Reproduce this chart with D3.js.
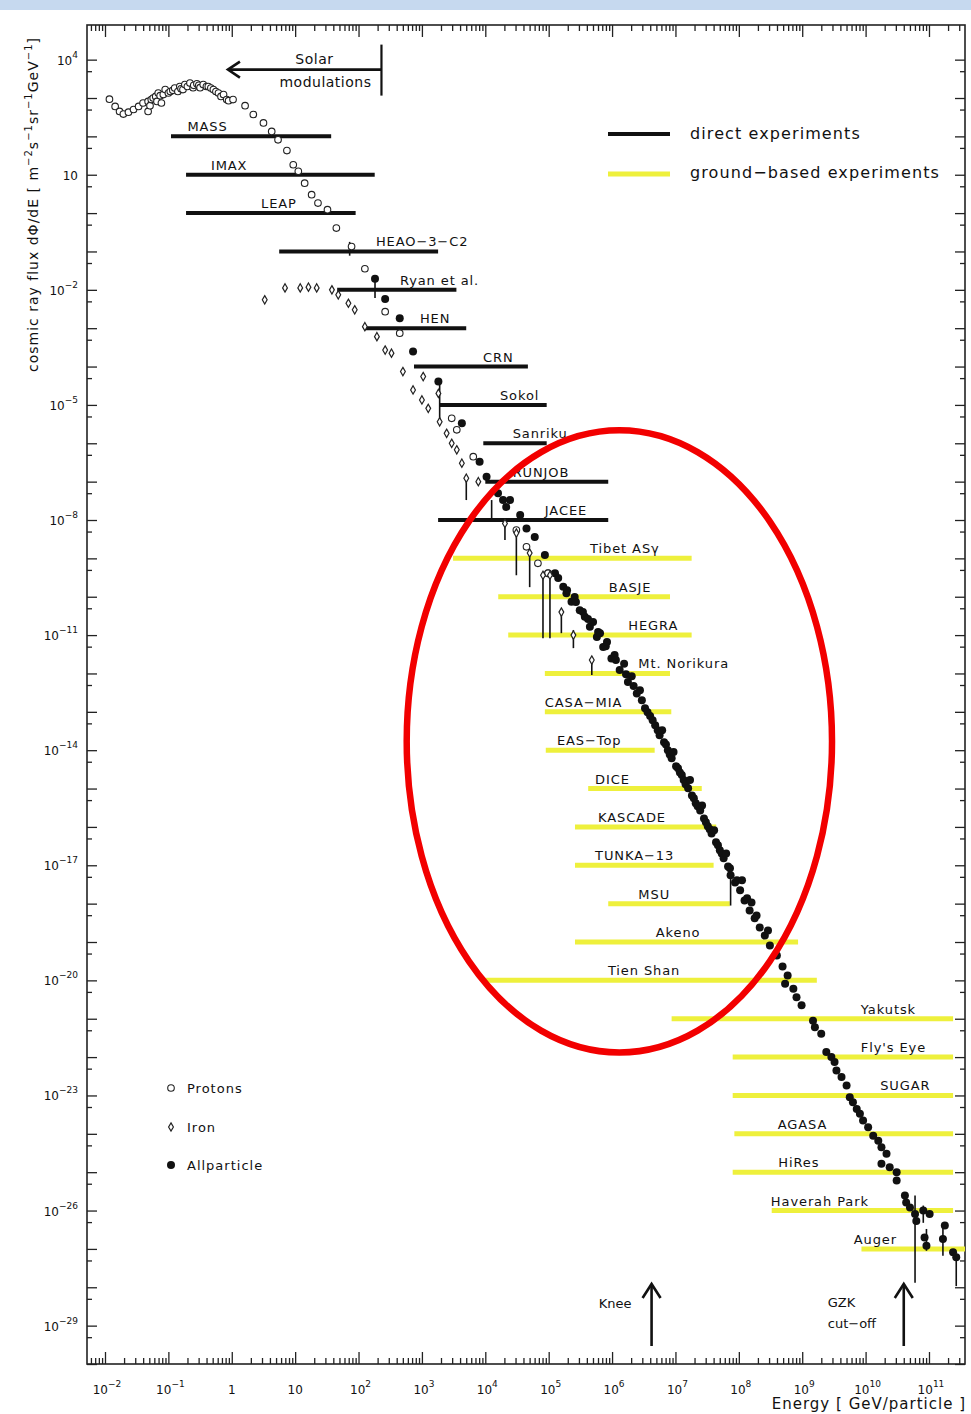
<!DOCTYPE html>
<html>
<head>
<meta charset="utf-8">
<script src="https://cdn.jsdelivr.net/npm/d3@7/dist/d3.min.js"></script>
<style>
  body { margin: 0; background: #fff; }
  text { font-family: "DejaVu Sans", "Liberation Sans", sans-serif; fill: #111; }
</style>
</head>
<body>
<svg id="chart" width="971" height="1414"></svg>
<script>
// ---- data (energies in GeV, flux in m^-2 s^-1 sr^-1 GeV^-1) ----
// points are stored as [log10 E, log10 flux]

const xTickExps = [-2, -1, 0, 1, 2, 3, 4, 5, 6, 7, 8, 9, 10, 11];
const yTickExps = [4, 1, -2, -5, -8, -11, -14, -17, -20, -23, -26, -29];

const directNames = ["MASS", "IMAX", "LEAP", "HEAO\u22123\u2212C2", "Ryan et al.", "HEN", "CRN", "Sokol", "Sanriku", "RUNJOB", "JACEE"];
const directRange = [[0.11, 37], [0.19, 180], [0.19, 90], [5.6, 1800], [46, 3500], [125, 5000], [750, 4.7e4], [1900, 9.3e4], [9300, 9.3e4], [1e4, 8.7e5], [1800, 8.7e5]];
const directFlux = [1e2, 1e1, 1e0, 1e-1, 1e-2, 1e-3, 1e-4, 1e-5, 1e-6, 1e-7, 1e-8];
const directLabelAt = [0.2, 0.47, 2.9, 188, 450, 930, 9200, 1.7e4, 2.7e4, 2.7e4, 8.7e4];

const groundNames = ["Tibet AS\u03b3", "BASJE", "HEGRA", "Mt. Norikura", "CASA\u2212MIA", "EAS\u2212Top", "DICE", "KASCADE", "TUNKA\u221213", "MSU", "Akeno", "Tien Shan", "Yakutsk", "Fly's Eye", "SUGAR", "AGASA", "HiRes", "Haverah Park", "Auger"];
const groundRange = [[3100, 1.8e7], [1.6e4, 8.2e6], [2.3e4, 1.8e7], [8.7e4, 8.2e6], [8.7e4, 8.6e6], [9e4, 4.7e6], [4.2e5, 2.6e7], [2.6e5, 4.4e7], [2.6e5, 4e7], [8.7e5, 7.2e7], [2.6e5, 8.6e8], [1e4, 1.7e9], [8.7e6, 2.4e11], [8e7, 2.4e11], [8e7, 2.4e11], [8.5e7, 2.4e11], [8e7, 2.4e11], [3.3e8, 2.4e11], [8.6e9, 3.7e11]];
const groundFlux = [1e-9, 1e-10, 1e-11, 1e-12, 1e-13, 1e-14, 1e-15, 1e-16, 1e-17, 1e-18, 1e-19, 1e-20, 1e-21, 1e-22, 1e-23, 1e-24, 1e-25, 1e-26, 1e-27];
const groundLabelAt = [4.5e5, 8.9e5, 1.8e6, 2.6e6, 8.7e4, 1.35e5, 5.4e5, 6e5, 5.4e5, 2.6e6, 4.9e6, 8.6e5, 8.4e9, 8.4e9, 1.7e10, 4.1e8, 4.2e8, 3.2e8, 6.5e9];

const protons = [
  [-1.93, 2.97], [-1.84, 2.78], [-1.77, 2.65], [-1.71, 2.58], [-1.63, 2.63], [-1.55, 2.70], [-1.47, 2.78],
  [-1.40, 2.87], [-1.32, 2.91], [-1.32, 2.65], [-1.29, 2.80], [-1.27, 2.96], [-1.24, 3.00], [-1.20, 3.04],
  [-1.18, 2.91], [-1.16, 3.13], [-1.13, 3.06], [-1.11, 2.87], [-1.08, 3.09], [-1.05, 3.22], [-1.00, 3.13],
  [-0.97, 3.17], [-0.93, 3.20], [-0.90, 3.26], [-0.85, 3.17], [-0.82, 3.30], [-0.80, 3.24], [-0.77, 3.22],
  [-0.74, 3.35], [-0.70, 3.30], [-0.66, 3.39], [-0.61, 3.27], [-0.60, 3.33], [-0.55, 3.37], [-0.52, 3.33],
  [-0.50, 3.27], [-0.45, 3.35], [-0.40, 3.30], [-0.37, 3.30], [-0.33, 3.26], [-0.29, 3.22], [-0.25, 3.17],
  [-0.21, 3.13], [-0.17, 3.04], [-0.13, 3.09], [-0.08, 2.96], [-0.05, 2.93], [0.02, 2.96], [0.21, 2.80],
  [0.34, 2.57], [0.50, 2.35], [0.63, 2.13], [0.73, 1.91], [0.87, 1.63], [0.97, 1.26], [1.05, 1.09],
  [1.15, 0.78], [1.26, 0.48], [1.36, 0.26], [1.51, 0.09], [1.65, -0.39], [1.89, -0.87], [2.10, -1.45],
  [2.42, -2.57], [2.65, -3.13], [3.47, -5.35], [3.55, -5.65], [3.81, -6.35], [4.49, -8.26], [4.65, -8.70],
  [4.83, -9.13], [4.99, -9.39]
];

const iron = [
  [0.52, -2.26], [0.84, -1.95], [1.08, -1.95], [1.21, -1.93], [1.34, -1.95], [1.58, -2.00], [1.68, -2.13],
  [1.84, -2.35], [1.94, -2.52], [2.10, -2.96], [2.29, -3.22], [2.42, -3.57], [2.52, -3.65], [2.70, -4.13],
  [2.86, -4.61], [3.00, -4.87], [3.02, -4.26], [3.10, -5.09], [3.26, -4.70], [3.28, -5.44], [3.39, -5.74],
  [3.47, -6.00], [3.55, -6.17], [3.63, -6.52], [3.70, -6.91], [3.89, -7.00], [4.31, -8.09], [4.49, -8.34],
  [4.70, -8.86], [4.91, -9.44], [5.02, -9.44], [5.20, -10.40], [5.39, -11.00], [5.68, -11.65]
];

const allParticle = [
  [2.26, -1.71], [2.42, -2.24], [2.65, -2.74], [2.86, -3.61], [3.26, -4.39], [3.63, -5.48], [3.91, -6.48],
  [4.02, -6.87], [4.20, -7.30], [4.28, -7.48], [4.33, -7.66], [4.39, -7.48], [4.55, -7.87], [4.65, -8.22],
  [4.78, -8.44], [4.94, -8.91], [4.99, -9.39], [5.10, -9.39], [5.15, -9.51], [5.23, -9.74], [5.28, -9.91],
  [5.29, -9.83], [5.36, -10.13], [5.41, -10.01], [5.43, -10.14], [5.49, -10.35], [5.54, -10.40],
  [5.57, -10.52], [5.62, -10.58], [5.65, -10.78], [5.70, -10.66], [5.76, -11.05], [5.78, -10.92],
  [5.81, -10.95], [5.86, -11.31], [5.90, -11.29], [5.92, -11.18], [5.99, -11.61], [6.04, -11.52],
  [6.06, -11.65], [6.12, -11.91], [6.19, -11.75], [6.22, -12.02], [6.25, -12.22], [6.31, -12.07],
  [6.34, -12.33], [6.39, -12.52], [6.44, -12.44], [6.47, -12.70], [6.52, -12.91], [6.56, -13.01],
  [6.60, -13.11], [6.64, -13.22], [6.68, -13.35], [6.72, -13.48], [6.75, -13.61], [6.79, -13.48],
  [6.82, -13.79], [6.85, -13.85], [6.88, -14.00], [6.91, -14.11], [6.94, -14.21], [6.97, -14.05],
  [7.01, -14.42], [7.04, -14.47], [7.07, -14.58], [7.10, -14.65], [7.13, -14.78], [7.16, -14.89],
  [7.20, -14.99], [7.23, -14.78], [7.26, -15.18], [7.29, -15.25], [7.32, -15.38], [7.35, -15.46],
  [7.39, -15.57], [7.42, -15.44], [7.45, -15.78], [7.48, -15.88], [7.51, -15.98], [7.54, -16.06],
  [7.57, -16.17], [7.61, -16.09], [7.64, -16.40], [7.67, -16.48], [7.70, -16.61], [7.73, -16.69],
  [7.76, -16.82], [7.80, -16.69], [7.83, -17.03], [7.86, -17.08], [7.87, -17.26], [7.94, -17.45],
  [7.97, -17.39], [8.02, -17.65], [8.05, -17.39], [8.09, -17.92], [8.13, -17.86], [8.17, -18.18],
  [8.20, -17.97], [8.25, -18.38], [8.28, -18.31], [8.33, -18.62], [8.41, -18.83], [8.46, -18.70],
  [8.49, -19.09], [8.60, -19.35], [8.69, -19.64], [8.77, -19.87],
  [8.73, -20.09], [8.86, -20.22], [8.91, -20.44], [8.99, -20.65], [9.17, -21.05], [9.20, -21.22],
  [9.30, -21.39], [9.38, -21.87], [9.46, -22.00], [9.51, -22.13], [9.54, -22.35], [9.62, -22.52],
  [9.70, -22.74], [9.75, -23.05], [9.80, -23.18], [9.86, -23.35], [9.91, -23.48], [9.96, -23.65],
  [10.04, -23.83], [10.12, -24.05], [10.20, -24.18], [10.25, -24.35], [10.33, -24.52], [10.25, -24.78],
  [10.38, -24.87], [10.49, -25.00], [10.49, -25.22], [10.62, -25.61], [10.64, -25.79], [10.70, -25.92],
  [10.78, -26.09], [10.80, -26.27], [10.91, -26.00], [11.01, -26.09], [10.93, -26.70], [10.96, -26.92],
  [11.25, -26.39], [11.22, -26.74], [11.38, -27.09], [11.43, -27.22]
];

// vertical error bars / limits: [log10 E, log10 flux top, log10 flux bottom]
const errorBars = [
  [1.86, -0.75, -1.11], [2.26, -1.69, -2.21], [3.28, -4.48, -5.39], [4.10, -7.48, -8.00],
  [3.70, -6.91, -7.48], [4.31, -8.08, -8.52], [4.49, -8.34, -9.44], [4.70, -8.86, -9.75],
  [4.91, -9.44, -11.08], [5.02, -9.51, -11.08], [5.20, -10.40, -10.95], [5.39, -10.87, -11.34],
  [5.68, -11.60, -12.04], [7.87, -17.13, -18.05], [10.78, -25.61, -27.88], [11.22, -26.33, -27.18],
  [10.96, -26.48, -27.05], [10.91, -25.87, -26.32], [11.43, -27.22, -27.97]
];

const kneeE = 4.2e6;
const gzkE = 4e10;
const solarE = [0.87, 230];   // arrow tip, bar
const solarFlux = 5.5e3;

// ---- layout ----
const svg = d3.select("#chart");
const X0 = 87, X1 = 965, Y0 = 25, Y1 = 1364;

const x = d3.scaleLog().domain([5.2e-3, 3.7e11]).range([X0, X1]);
const y = d3.scaleLog().domain([8e4, 1e-30]).range([Y0, Y1]);
const p10 = v => Math.pow(10, v);

svg.append("rect").attr("x", 0).attr("y", 0).attr("width", 971).attr("height", 10).attr("fill", "#c6d9ef");

// ---- axes (ticks pointing inward) ----
const xMajor = xTickExps.map(p10);
const xMinor = [];
for (let e = -3; e <= 11; e++) for (let m = 2; m <= 9; m++) {
  const v = m * p10(e);
  if (v > x.domain()[0] && v < x.domain()[1]) xMinor.push(v);
}
const yMajor = d3.range(-30, 5).map(p10);
const yMinor = d3.range(-30, 5).map(e => 5 * p10(e - 1)).filter(v => v > 1e-30 && v < 8e4);

function addAxis(axisFn, scale, vals, size, tr) {
  const g = svg.append("g").attr("transform", tr)
    .call(axisFn(scale).tickValues(vals).tickSizeInner(size).tickSizeOuter(0).tickFormat(""));
  g.select(".domain").remove();
  g.selectAll(".tick line").attr("stroke", "#222").attr("stroke-width", 1.3);
}
addAxis(d3.axisBottom, x, xMajor, -12, `translate(0,${Y1})`);
addAxis(d3.axisBottom, x, xMinor, -6, `translate(0,${Y1})`);
addAxis(d3.axisTop, x, xMajor, -12, `translate(0,${Y0})`);
addAxis(d3.axisTop, x, xMinor, -6, `translate(0,${Y0})`);
addAxis(d3.axisLeft, y, yMajor, -10, `translate(${X0},0)`);
addAxis(d3.axisLeft, y, yMinor, -5, `translate(${X0},0)`);
addAxis(d3.axisRight, y, yMajor, -10, `translate(${X1},0)`);
addAxis(d3.axisRight, y, yMinor, -5, `translate(${X1},0)`);

svg.append("rect").attr("x", X0).attr("y", Y0).attr("width", X1 - X0).attr("height", Y1 - Y0)
  .attr("fill", "none").attr("stroke", "#222").attr("stroke-width", 1.6);

function powLabel(t, e) {
  if (e === 0) { t.text("1"); return; }
  if (e === 1) { t.text("10"); return; }
  t.append("tspan").text("10");
  t.append("tspan").attr("dy", -7).attr("font-size", 9).text(e < 0 ? "\u2212" + (-e) : e);
}

xTickExps.forEach(e => {
  const t = svg.append("text").attr("x", x(p10(e)) + (e > 1 || e < 0 ? 2 : 0)).attr("y", Y1 + 30)
    .attr("text-anchor", "middle").attr("font-size", 12);
  powLabel(t, e);
});
yTickExps.forEach(e => {
  const t = svg.append("text").attr("x", X0 - 9).attr("y", y(p10(e)) + 5)
    .attr("text-anchor", "end").attr("font-size", 12);
  powLabel(t, e);
});

// axis titles
const yt = svg.append("text").attr("transform", `translate(38,372) rotate(-90)`)
  .attr("font-size", 14).attr("letter-spacing", 1);
yt.append("tspan").text("cosmic ray flux d\u03a6/dE  [ m");
yt.append("tspan").attr("dy", -6).attr("font-size", 10).text("\u22122");
yt.append("tspan").attr("dy", 6).text("s");
yt.append("tspan").attr("dy", -6).attr("font-size", 10).text("\u22121");
yt.append("tspan").attr("dy", 6).text("sr");
yt.append("tspan").attr("dy", -6).attr("font-size", 10).text("\u22121");
yt.append("tspan").attr("dy", 6).text("GeV");
yt.append("tspan").attr("dy", -6).attr("font-size", 10).text("\u22121");
yt.append("tspan").attr("dy", 6).text("]");

svg.append("text").attr("x", X1 + 1).attr("y", 1409).attr("text-anchor", "end")
  .attr("font-size", 15).attr("letter-spacing", 1).text("Energy [ GeV/particle ]");

// ---- experiment ranges ----
const ground = groundNames.map((n, i) => ({ name: n, r: groundRange[i], f: groundFlux[i], at: groundLabelAt[i] }));
const direct = directNames.map((n, i) => ({ name: n, r: directRange[i], f: directFlux[i], at: directLabelAt[i] }));

svg.append("g").selectAll("line").data(ground).join("line")
  .attr("x1", d => x(d.r[0])).attr("x2", d => Math.min(x(d.r[1]), X1))
  .attr("y1", d => y(d.f)).attr("y2", d => y(d.f))
  .attr("stroke", "#eef03c").attr("stroke-width", 5);
svg.append("g").selectAll("line").data(direct).join("line")
  .attr("x1", d => x(d.r[0])).attr("x2", d => x(d.r[1]))
  .attr("y1", d => y(d.f)).attr("y2", d => y(d.f))
  .attr("stroke", "#111").attr("stroke-width", 4);

svg.append("g").selectAll("text").data(direct.concat(ground)).join("text")
  .attr("x", d => x(d.at)).attr("y", d => y(d.f) - 5)
  .attr("font-size", 13).attr("letter-spacing", 0.9).text(d => d.name);

// ---- data ----
svg.append("g").selectAll("line").data(errorBars).join("line")
  .attr("x1", d => x(p10(d[0]))).attr("x2", d => x(p10(d[0])))
  .attr("y1", d => y(p10(d[1]))).attr("y2", d => y(p10(d[2])))
  .attr("stroke", "#111").attr("stroke-width", 1.6);

svg.append("g").selectAll("circle").data(allParticle).join("circle")
  .attr("cx", d => x(p10(d[0]))).attr("cy", d => y(p10(d[1]))).attr("r", 4)
  .attr("fill", "#111");

svg.append("g").selectAll("circle").data(protons).join("circle")
  .attr("cx", d => x(p10(d[0]))).attr("cy", d => y(p10(d[1]))).attr("r", 3.3)
  .attr("fill", "#fff").attr("stroke", "#222").attr("stroke-width", 1.1);

const diamond = d3.symbol(d3.symbolDiamond, 20);
svg.append("g").selectAll("path").data(iron).join("path")
  .attr("transform", d => `translate(${x(p10(d[0]))},${y(p10(d[1]))})`)
  .attr("d", diamond).attr("fill", "#fff").attr("stroke", "#222").attr("stroke-width", 1.2);

// ---- annotations ----
function upArrow(xe, yTop, yBot) {
  const g = svg.append("g").attr("stroke", "#111").attr("stroke-width", 2.6).attr("fill", "none");
  g.append("line").attr("x1", x(xe)).attr("x2", x(xe)).attr("y1", yTop).attr("y2", yBot);
  g.append("polyline").attr("points", `${x(xe) - 9},${yTop + 14} ${x(xe)},${yTop} ${x(xe) + 9},${yTop + 14}`);
}
upArrow(kneeE, 1284, 1346);
upArrow(gzkE, 1284, 1346);
svg.append("text").attr("x", x(kneeE) - 20).attr("y", 1308).attr("text-anchor", "end").attr("font-size", 13).text("Knee");
svg.append("text").attr("x", x(gzkE) - 76).attr("y", 1307).attr("font-size", 13).text("GZK");
svg.append("text").attr("x", x(gzkE) - 76).attr("y", 1328).attr("font-size", 13).text("cut\u2212off");

const sg = svg.append("g").attr("stroke", "#111").attr("fill", "none");
sg.append("line").attr("x1", x(solarE[1])).attr("x2", x(solarE[0]) + 2)
  .attr("y1", y(solarFlux)).attr("y2", y(solarFlux)).attr("stroke-width", 2.6);
sg.append("polyline").attr("stroke-width", 2.6)
  .attr("points", `${x(solarE[0]) + 12},${y(solarFlux) - 8} ${x(solarE[0])},${y(solarFlux)} ${x(solarE[0]) + 12},${y(solarFlux) + 8}`);
sg.append("line").attr("x1", x(solarE[1])).attr("x2", x(solarE[1]))
  .attr("y1", y(solarFlux) - 25).attr("y2", y(solarFlux) + 26).attr("stroke-width", 2.2);
svg.append("text").attr("x", x(solarE[1]) - 67).attr("y", y(solarFlux) - 6).attr("text-anchor", "middle")
  .attr("font-size", 14).attr("letter-spacing", 0.5).text("Solar");
svg.append("text").attr("x", x(solarE[1]) - 56).attr("y", y(solarFlux) + 17).attr("text-anchor", "middle")
  .attr("font-size", 14).attr("letter-spacing", 0.5).text("modulations");

// legends
svg.append("line").attr("x1", 608).attr("x2", 670).attr("y1", 134).attr("y2", 134).attr("stroke", "#111").attr("stroke-width", 4);
svg.append("line").attr("x1", 608).attr("x2", 670).attr("y1", 174).attr("y2", 174).attr("stroke", "#eef03c").attr("stroke-width", 5);
svg.append("text").attr("x", 690).attr("y", 139).attr("font-size", 16).attr("letter-spacing", 1.1).text("direct experiments");
svg.append("text").attr("x", 690).attr("y", 178).attr("font-size", 16).attr("letter-spacing", 1.1).text("ground\u2212based experiments");

svg.append("circle").attr("cx", 171).attr("cy", 1088).attr("r", 3.3).attr("fill", "#fff").attr("stroke", "#222").attr("stroke-width", 1.1);
svg.append("path").attr("transform", "translate(171,1127)").attr("d", diamond).attr("fill", "#fff").attr("stroke", "#222").attr("stroke-width", 1.2);
svg.append("circle").attr("cx", 171).attr("cy", 1165).attr("r", 4).attr("fill", "#111");
[["Protons", 1093], ["Iron", 1132], ["Allparticle", 1170]].forEach(([s, yy]) =>
  svg.append("text").attr("x", 187).attr("y", yy).attr("font-size", 13).attr("letter-spacing", 1).text(s));

// red highlight ellipse
const eE = [p10(2.76), p10(9.47)], eF = [p10(-5.66), p10(-21.88)];
svg.append("ellipse")
  .attr("cx", (x(eE[0]) + x(eE[1])) / 2).attr("cy", (y(eF[0]) + y(eF[1])) / 2)
  .attr("rx", (x(eE[1]) - x(eE[0])) / 2).attr("ry", (y(eF[1]) - y(eF[0])) / 2)
  .attr("fill", "none").attr("stroke", "#f20000").attr("stroke-width", 6.5);
</script>
</body>
</html>
